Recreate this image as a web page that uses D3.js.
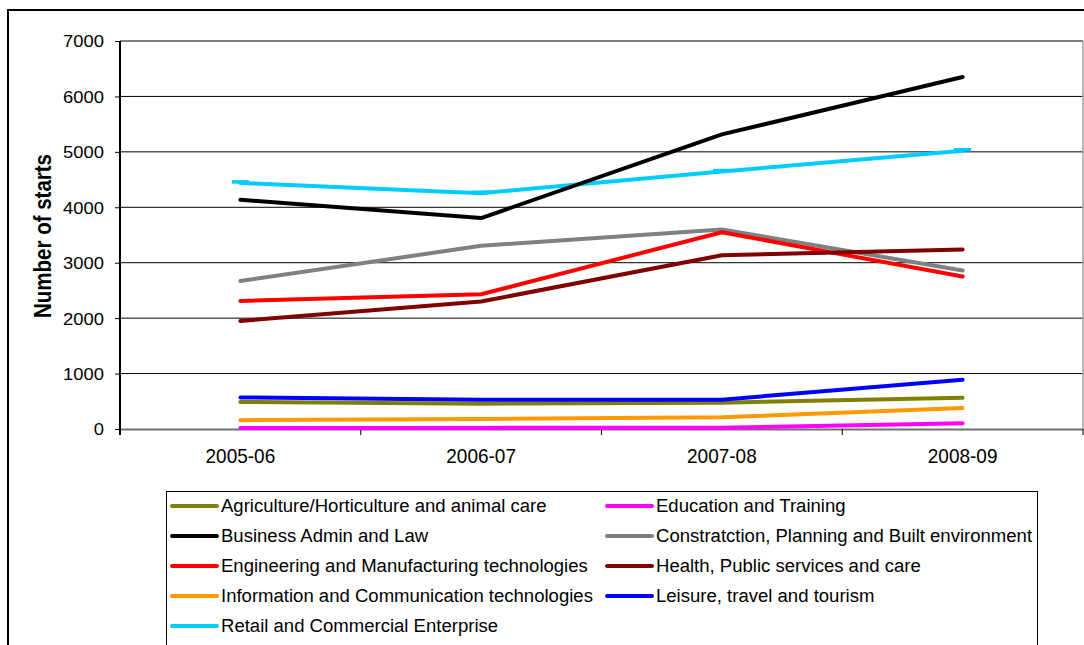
<!DOCTYPE html>
<html>
<head>
<meta charset="utf-8">
<script src="https://cdn.jsdelivr.net/npm/d3@7"></script>
<style>
  body { margin: 0; background: #fff; }
  svg { display: block; font-family: "Liberation Sans", Arial, sans-serif; }
</style>
</head>
<body>
<svg id="chart" width="1084" height="645"></svg>
<script>
// Apprenticeship starts by sector subject area, 2005-06 to 2008-09
const years = ["2005-06", "2006-07", "2007-08", "2008-09"];
const yTicks = [0, 1000, 2000, 3000, 4000, 5000, 6000, 7000];

const seriesNames = [
  "Agriculture/Horticulture and animal care",
  "Education and Training",
  "Business Admin and Law",
  "Constratction, Planning and Built environment",
  "Engineering and Manufacturing technologies",
  "Health, Public services and care",
  "Information and Communication technologies",
  "Leisure, travel and tourism",
  "Retail and Commercial Enterprise"
];

const agriculture   = [487, 457, 475, 565];
const education     = [20, 20, 23, 103];
const business      = [4135, 3805, 5315, 6350];
const construction  = [2670, 3305, 3600, 2860];
const engineering   = [2310, 2430, 3550, 2750];
const health        = [1950, 2300, 3135, 3240];
const ict           = [160, 180, 211, 379];
const leisure       = [570, 529, 529, 890];
const retail        = [4440, 4255, 4645, 5020];

const seriesValues = [agriculture, education, business, construction,
                      engineering, health, ict, leisure, retail];
const seriesColors = ["#808000", "#FF00FF", "#000000", "#808080",
                      "#FF0000", "#800000", "#FF9900", "#0000FF", "#00CCFF"];

const svg = d3.select("#chart");

// outer chart frame
svg.append("path")
  .attr("d", "M8,700 V10 H1100")
  .attr("fill", "none")
  .attr("stroke", "#000")
  .attr("stroke-width", 2);

const plot = { left: 120, right: 1083, top: 41, bottom: 429 };

const x = d3.scaleBand().domain(years).range([plot.left, plot.right]);
const xc = d => x(d) + x.bandwidth() / 2;
const y = d3.scaleLinear().domain([0, 7000]).range([plot.bottom, plot.top]);

// horizontal gridlines
svg.append("g")
  .selectAll("line")
  .data(yTicks.filter(v => v > 0))
  .join("line")
  .attr("x1", plot.left).attr("x2", plot.right)
  .attr("y1", d => y(d)).attr("y2", d => y(d))
  .attr("stroke", "#000").attr("stroke-width", 1);

// plot area right edge
svg.append("line")
  .attr("x1", plot.right).attr("x2", plot.right)
  .attr("y1", plot.top).attr("y2", plot.bottom)
  .attr("stroke", "#a0a0a0").attr("stroke-width", 1.5);

// x axis: labels centred in each band
const xAxis = svg.append("g")
  .attr("transform", `translate(0,${plot.bottom})`)
  .call(d3.axisBottom(x).tickSize(0).tickPadding(0));
xAxis.select(".domain")
  .attr("stroke", "#707070").attr("stroke-width", 2);
xAxis.selectAll("text")
  .attr("fill", "#000")
  .attr("font-size", 20)
  .attr("y", 0).attr("dy", 0)
  .attr("transform", "translate(0,33.5) scale(0.95,1)");

// x axis ticks at band boundaries
const boundaries = years.map(d => x(d)).concat([plot.right]);
svg.append("g")
  .selectAll("line")
  .data(boundaries)
  .join("line")
  .attr("x1", d => d).attr("x2", d => d)
  .attr("y1", plot.bottom).attr("y2", plot.bottom + 6)
  .attr("stroke", "#000").attr("stroke-width", 1);

// y axis
const yAxis = svg.append("g")
  .attr("transform", `translate(${plot.left},0)`)
  .call(d3.axisLeft(y).tickValues(yTicks).tickSize(5).tickPadding(0).tickFormat(d3.format("d")));
yAxis.select(".domain").remove();
yAxis.selectAll(".tick line").attr("stroke", "#000");
yAxis.selectAll("text")
  .attr("fill", "#000")
  .attr("font-size", 16.3)
  .attr("x", 0).attr("dy", "0.36em")
  .attr("transform", "translate(-16,0) scale(1.13,1)");
svg.append("line")
  .attr("x1", plot.left).attr("x2", plot.left)
  .attr("y1", plot.top).attr("y2", plot.bottom + 6)
  .attr("stroke", "#000").attr("stroke-width", 2);

// y axis title
svg.append("text")
  .attr("transform", "translate(51,236) scale(1.15,1) rotate(-90)")
  .attr("text-anchor", "middle")
  .attr("font-size", 20.5)
  .attr("font-weight", "bold")
  .attr("fill", "#000")
  .text("Number of starts");

// series lines
const line = d3.line()
  .x((d, i) => xc(years[i]))
  .y(d => y(d));

const drawOrder = [0, 1, 8, 2, 3, 4, 5, 6, 7];
svg.append("g")
  .selectAll("path")
  .data(drawOrder)
  .join("path")
  .attr("d", k => line(seriesValues[k]))
  .attr("fill", "none")
  .attr("stroke", k => seriesColors[k])
  .attr("stroke-width", 4)
  .attr("stroke-linejoin", "round")
  .attr("stroke-linecap", "round");

// dash markers on the retail series
svg.append("g")
  .selectAll("path")
  .data(retail)
  .join("path")
  .attr("d", (v, i) => `M${xc(years[i]) - 8.5},${y(v) - 1} H${xc(years[i]) + 8.5}`)
  .attr("stroke", seriesColors[8])
  .attr("stroke-width", 3.5);

// legend
svg.append("rect")
  .attr("x", 166.5).attr("y", 491.5)
  .attr("width", 871).attr("height", 200)
  .attr("fill", "#fff")
  .attr("stroke", "#000").attr("stroke-width", 1);

const legendCols = [172, 607];
const legend = svg.append("g")
  .selectAll("g")
  .data(seriesNames)
  .join("g")
  .attr("transform", (d, i) => `translate(${legendCols[i % 2]},${506 + 30 * Math.floor(i / 2)})`);
legend.append("line")
  .attr("x1", 0).attr("x2", 45)
  .attr("stroke", (d, i) => seriesColors[i])
  .attr("stroke-width", 4)
  .attr("stroke-linecap", "round");
legend.append("text")
  .attr("transform", "translate(49,6.3) scale(1.03,1)")
  .attr("font-size", 18)
  .attr("fill", "#000")
  .text(d => d);
</script>
</body>
</html>
